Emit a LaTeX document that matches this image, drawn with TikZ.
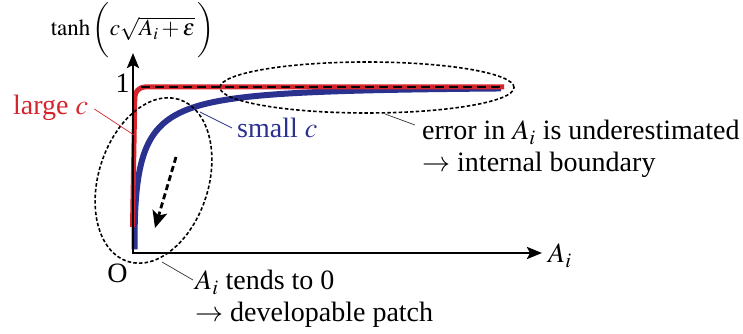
\documentclass[tikz,border=0pt]{standalone}
\usepackage{mathptmx}
\usepackage[no-math]{fontspec}
\setmainfont{Liberation Serif}
\usetikzlibrary{arrows.meta}
\definecolor{curvered}{RGB}{212,36,44}
\definecolor{curveblue}{RGB}{43,49,143}
\tikzset{
  axisline/.style={line width=2.8pt,
    {Stealth[length=15pt,width=12pt,inset=3pt]}-{Stealth[length=15pt,width=12pt,inset=3pt]}},
  lbl/.style={font=\fontsize{28}{33}\selectfont, inner sep=0pt},
  ring/.style={line width=1.6pt, dash pattern=on 3.5pt off 2.2pt},
  leader/.style={line width=0.7pt},
  flow/.style={line width=2.8pt, dash pattern=on 6pt off 3.5pt,
    -{Stealth[length=17pt,width=15pt,inset=4pt]}},
}
\begin{document}
\begin{tikzpicture}[x=1pt,y=1pt]
\useasboundingbox (0,0) rectangle (743,334);

% key points
\coordinate (O) at (133,81);
\coordinate (ytip) at (133,281);
\coordinate (xtip) at (542,81);

% small c curve
\draw[curveblue, line width=6pt, line cap=butt]
  plot[variable=\t, domain=0.1:7.16, samples=160, smooth]
  ({134.5+\t^3},{81+166*tanh(0.296*pow(\t,1.125))});

% large c curve
\draw[curvered, line width=5pt, rounded corners=10pt]
  (132.5,107) -- (135,247) -- (504,247);

% asymptote at 1
\draw[line width=2.6pt, dash pattern=on 9pt off 5pt] (141,247) -- (504,247);

% axes
\draw[axisline] (ytip) -- (O) -- (xtip);

% regions of interest
\draw[ring] (367,246.5) ellipse [x radius=147, y radius=25.5];
\draw[ring, rotate around={72.4:(153.5,153.5)}] (153.5,153.5) ellipse [x radius=85, y radius=55];

% trend towards zero
\coordinate (flowA) at (176,177);
\coordinate (flowB) at (155,106);
\draw[flow] (flowA) -- (flowB);

% axis labels
\node[font=\fontsize{23}{28}\selectfont, inner sep=0pt, anchor=base] (ylab) at (132.5,298)
  {$\tanh\bigg(c\sqrt{A_i+\varepsilon}\,\bigg)$};
\node[lbl, anchor=base west] (xlab) at (548,71) {$A_i$};
\node[lbl, anchor=base] (one) at (122.5,241) {1};
\node[lbl, anchor=base] (orig) at (117.5,51) {O};

% curve labels
\node[lbl, text=curvered, anchor=base west] (large) at (13,219) {large $c$};
\coordinate (redpt) at (134,199);
\draw[leader, curvered] ([shift={(6,6)}]large.base east) -- (redpt);

\node[lbl, text=curveblue, anchor=base west] (small) at (237,196) {small $c$};
\coordinate (bluept) at (200,222);
\draw[leader, curveblue] (bluept) -- ([shift={(-5,10)}]small.base west);

% annotations
\node[lbl, anchor=base west] (err1) at (422,194) {error in $A_i$ is underestimated};
\node[lbl, anchor=base west] (err2) at (422,162) {$\rightarrow$ internal boundary};
\coordinate (ringA) at (385,220);
\draw[leader, black!80] (ringA) -- ([shift={(-7,15)}]err1.base west);

\node[lbl, anchor=base west] (dev1) at (195,44) {$A_i$ tends to 0};
\node[lbl, anchor=base west] (dev2) at (195,12) {$\rightarrow$ developable patch};
\coordinate (ringB) at (162,72);
\draw[leader, black!80] (ringB) -- ([shift={(-2,10)}]dev1.base west);
\end{tikzpicture}
\end{document}
